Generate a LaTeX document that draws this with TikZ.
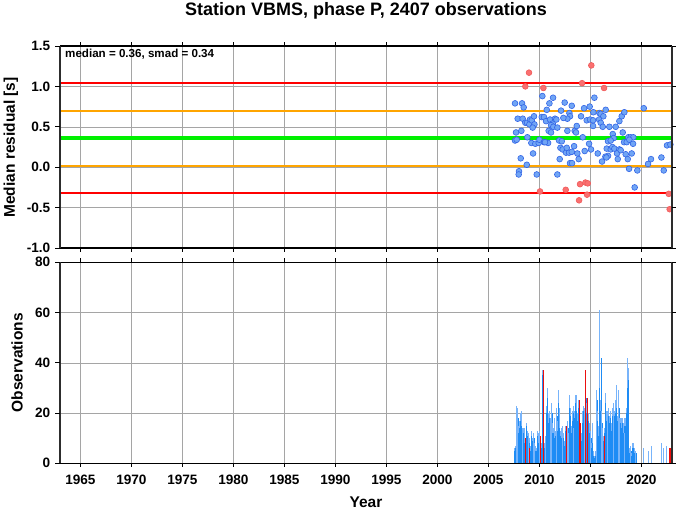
\documentclass[tikz,border=0pt]{standalone}
\usepackage{fontspec}
\setmainfont{Liberation Sans}
\usetikzlibrary{positioning}

\definecolor{gridgray}{RGB}{165,165,165}
\definecolor{framegray}{RGB}{45,45,45}
\definecolor{limitred}{RGB}{255,0,0}
\definecolor{limitorange}{RGB}{255,165,0}
\definecolor{mediangreen}{RGB}{0,240,0}
\definecolor{dotblue}{RGB}{112,165,245}
\definecolor{dotblueedge}{RGB}{50,100,230}
\definecolor{dotred}{RGB}{250,112,112}
\definecolor{dotrededge}{RGB}{240,90,90}
\definecolor{barlight}{RGB}{120,180,250}
\definecolor{bardark}{RGB}{30,140,245}
\definecolor{barred}{RGB}{235,15,15}

\begin{document}
\begin{tikzpicture}[x=1pt, y=1pt,
    gridline/.style={line width=0.5pt, gridgray},
    hframe/.style={line width=1.1pt, black},
    vframe/.style={line width=2.6pt, framegray},
    tick/.style={line width=0.9pt, black},
    limit/.style={line width=2pt},
    bluedot/.style={fill=dotblue, draw=dotblueedge, line width=0.6pt},
    reddot/.style={fill=dotred, draw=dotrededge, line width=0.6pt},
    ticklabel/.style={font=\bfseries\fontsize{13.6}{14}\selectfont, inner sep=0pt},
    axislabel/.style={font=\bfseries\fontsize{15.5}{16}\selectfont, inner sep=0pt}]
  \useasboundingbox (0,0) rectangle (678,511);

  \node (title) [font=\bfseries\fontsize{18}{20}\selectfont, inner sep=0pt, anchor=base]
    at (366,495) {Station VBMS, phase P, 2407 observations};

  % residuals, 1963-2023 against -1.0 .. 1.5 s
  \begin{scope}[shift={(60,343.8)}, x=10.2pt, y=80.8pt]
    \foreach \t in {1965,1970,...,2020}
      \draw[gridline] ({\t-1963},-1) -- ({\t-1963},1.5);
    \foreach \r in {-0.5,0,0.5,1}
      \draw[gridline] (0,\r) -- (60,\r);

    \draw[limit, limitred] (0,1.04) -- (60,1.04);
    \draw[limit, limitorange] (0,0.70) -- (60,0.70);
    \draw[line width=3.4pt, mediangreen] (0,0.36) -- (60,0.36);
    \draw[limit, limitorange] (0,0.02) -- (60,0.02);
    \draw[limit, limitred] (0,-0.32) -- (60,-0.32);

    \foreach \t/\r in {2007.61/0.79, 2008.30/0.79, 2008.46/0.74, 2007.87/0.60, 2008.36/0.60,
        2008.62/0.55, 2008.79/0.55, 2009.08/0.59, 2009.02/0.53, 2009.25/0.58, 2009.47/0.63,
        2009.51/0.53, 2009.34/0.49, 2007.71/0.43, 2008.23/0.45, 2007.61/0.33, 2007.77/0.34,
        2008.82/0.37, 2009.21/0.30, 2009.60/0.29, 2009.93/0.30, 2010.00/0.34, 2010.45/0.31,
        2010.85/0.30, 2010.55/0.31, 2010.29/0.88, 2010.98/0.79, 2011.34/0.86, 2010.72/0.71,
        2010.23/0.62, 2010.45/0.62, 2010.65/0.57, 2011.04/0.59, 2011.30/0.54, 2011.53/0.60,
        2011.66/0.59, 2011.14/0.52, 2011.37/0.50, 2011.76/0.49, 2010.91/0.45, 2011.14/0.43,
        2008.17/0.11, 2008.76/0.03, 2009.38/0.17, 2008.00/-0.05, 2007.97/-0.09, 2009.74/-0.09,
        2011.76/-0.09, 2012.12/0.70, 2012.48/0.80, 2013.17/0.76, 2012.94/0.67, 2013.00/0.63,
        2012.74/0.60, 2012.35/0.61, 2012.74/0.45, 2013.46/0.45, 2013.59/0.43, 2013.66/0.51,
        2011.93/0.33, 2012.19/0.32, 2012.06/0.24, 2012.28/0.22, 2012.61/0.18, 2012.91/0.18,
        2013.40/0.26, 2013.72/0.17, 2013.85/0.10, 2013.00/0.05, 2013.20/0.05, 2011.99/0.10,
        2014.08/0.63, 2014.38/0.73, 2014.93/0.75, 2015.39/0.86, 2015.29/0.68, 2014.64/0.58,
        2014.96/0.59, 2015.26/0.58, 2015.26/0.51, 2015.88/0.67, 2016.01/0.66, 2016.27/0.63,
        2016.50/0.71, 2015.85/0.59, 2016.01/0.55, 2016.21/0.50, 2014.25/0.37, 2014.87/0.29,
        2015.06/0.22, 2014.44/0.20, 2016.86/0.50, 2017.48/0.50, 2017.19/0.41, 2017.28/0.36,
        2017.84/0.57, 2018.07/0.63, 2018.33/0.68, 2018.17/0.43, 2018.72/0.37, 2018.95/0.37,
        2019.21/0.37, 2016.73/0.32, 2016.99/0.33, 2016.60/0.23, 2016.99/0.22, 2017.15/0.25,
        2017.35/0.23, 2017.84/0.22, 2017.61/0.17, 2017.68/0.10, 2016.73/0.14, 2016.47/0.13,
        2016.57/0.12, 2015.72/0.17, 2016.14/0.07, 2018.30/0.31, 2018.56/0.31, 2018.82/0.34,
        2019.18/0.29, 2017.97/0.21, 2018.46/0.16, 2019.05/0.17, 2018.66/0.10, 2018.79/-0.02,
        2019.60/-0.04, 2019.34/-0.25, 2020.23/0.73, 2020.65/0.04, 2020.94/0.10, 2021.96/0.12,
        2022.19/-0.04, 2022.51/0.27, 2022.84/0.28, 2013.17/0.19, 2012.68/0.24}
      \filldraw[bluedot] ({\t-1963},\r) circle (2.9pt);
    \foreach \t/\r in {2008.98/1.17, 2008.62/1.00, 2010.39/0.98, 2015.09/1.26, 2014.18/1.04,
        2016.34/0.98, 2010.06/-0.30, 2012.58/-0.28, 2013.98/-0.21, 2014.51/-0.19, 2014.74/-0.20,
        2013.89/-0.41, 2014.67/-0.34, 2022.68/-0.33, 2022.77/-0.52}
      \filldraw[reddot] ({\t-1963},\r) circle (2.9pt);

    \draw[hframe] (0,-1) -- (60,-1) (0,1.5) -- (60,1.5);
    \draw[vframe] (0,-1) -- (0,1.5) (60,-1) -- (60,1.5);
    \foreach \t in {1965,1970,...,2020} {
      \draw[tick] ({\t-1963},1.5) -- ++(0,4pt);
      \draw[tick] ({\t-1963},-1) -- ++(0,-4pt);
    }
    \foreach \r/\lab in {-1/-1.0, -0.5/-0.5, 0/0.0, 0.5/0.5, 1/1.0, 1.5/1.5} {
      \draw[tick] (0,\r) -- ++(-5pt,0);
      \draw[tick] (60,\r) -- ++(4pt,0);
      \node[ticklabel, anchor=east] at ([xshift=-9.5pt]0,\r) {\lab};
    }
  \end{scope}

  \node (stats) [font=\bfseries\fontsize{11.6}{12}\selectfont, inner sep=0pt, anchor=base west]
    at (65,453.7) {median = 0.36, smad = 0.34};
  \node (reslabel) [axislabel, rotate=90, anchor=base] at (15,363.5) {Median residual [s]};

  % monthly observation counts, 1963-2023 against 0 .. 80
  \begin{scope}[shift={(60,47.7)}, x=10.2pt, y=2.5125pt]
    \foreach \t in {1965,1970,...,2020}
      \draw[gridline] ({\t-1963},0) -- ({\t-1963},80);
    \foreach \n in {20,40,60}
      \draw[gridline] (0,\n) -- (60,\n);

    \foreach \h/\d [count=\i from 0] in {6/5, 7/6, 5/4, 23/16, 22/18, 15/12, 17/14, 20/17,
        21/15, 14/11, 14/10, 14/12, 14/8, 10/7, 16/15, 13/11, 12/9, 12/6, 10/8, 7/5, 13/11,
        10/9, 9/6, 12/10, 8/6, 7/5, 6/5, 13/11, 12/8, 10/7, 13/11, 10/6, 8/6, 37/35, 36/30,
        8/6, 9/7, 11/8, 23/20, 30/26, 20/16, 21/18, 18/15, 17/12, 24/20, 16/12, 14/12, 18/10,
        13/11, 21/18, 22/19, 17/13, 29/24, 22/14, 13/11, 14/10, 11/9, 15/12, 12/10, 9/7,
        15/13, 14/12, 17/14, 17/14, 12/9, 27/22, 22/19, 15/12, 21/17, 23/20, 14/10, 21/18,
        27/24, 27/21, 20/17, 25/22, 16/13, 21/16, 15/12, 12/9, 21/16, 23/21, 15/12, 22/19,
        27/26, 24/20, 19/15, 20/17, 16/12, 13/11, 13/10, 8/6, 16/8, 5/3, 3/2, 5/3, 11/9,
        29/25, 21/17, 15/11, 61/30, 25/21, 42/42, 21/16, 14/11, 11/9, 14/12, 28/24, 21/17,
        18/16, 21/18, 22/19, 19/16, 21/18, 16/13, 22/19, 23/21, 24/18, 21/19, 25/20, 31/22,
        19/17, 29/26, 27/22, 18/15, 18/16, 18/14, 18/16, 16/12, 18/15, 12/10, 18/15, 22/20,
        42/30, 38/33, 6/4, 5/4, 7/5, 4/3, 8/6, 8/6, 6/4, 3/2, 5/4} {
      \fill[barlight] ({44.5+\i/12},0) rectangle ++(0.083,\h);
      \fill[bardark] ({44.52+\i/12},0) rectangle ++(0.045,\d);
    }
    \foreach \t/\h in {2020.2/6, 2020.6/5, 2020.9/7, 2021.9/8, 2022.1/6, 2022.4/7, 2022.95/5}
      \fill[barlight] ({\t-1963},0) rectangle ++(0.08,\h);
    \foreach \t/\h in {2008.6/10, 2009.0/6, 2010.1/11, 2010.38/37, 2012.6/15, 2013.9/25,
        2014.0/16, 2014.5/37, 2014.65/26, 2016.3/11, 2022.7/6, 2022.8/6}
      \fill[barred] ({\t-1963},0) rectangle ++(0.1,\h);

    \draw[hframe] (0,0) -- (60,0) (0,80) -- (60,80);
    \draw[vframe] (0,0) -- (0,80) (60,0) -- (60,80);
    \foreach \t in {1965,1970,...,2020} {
      \draw[tick] ({\t-1963},80) -- ++(0,4pt);
      \draw[tick] ({\t-1963},0) -- ++(0,-4pt);
      \node[ticklabel, anchor=base] at ([yshift=-21pt]{\t-1963},0) {\t};
    }
    \foreach \n in {0,20,...,80} {
      \draw[tick] (0,\n) -- ++(-5pt,0);
      \draw[tick] (60,\n) -- ++(4pt,0);
      \node[ticklabel, anchor=east] at ([xshift=-9.5pt]0,\n) {\n};
    }
  \end{scope}

  \node (obslabel) [axislabel, rotate=90, anchor=base] at (22.7,148.3) {Observations};
  \node (yearlabel) [axislabel, anchor=base] at (366,3.2) {Year};
\end{tikzpicture}
\end{document}
